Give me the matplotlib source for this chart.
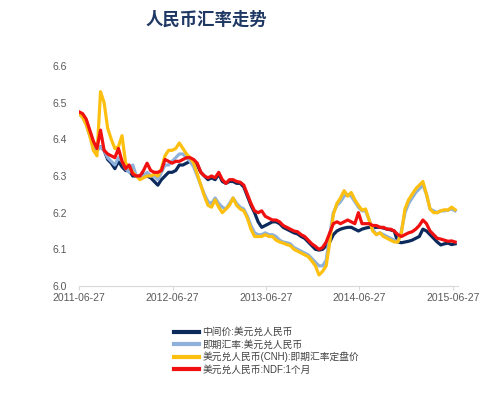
import matplotlib
matplotlib.use("Agg")
import matplotlib.pyplot as plt
import matplotlib.dates as mdates
import pandas as pd

plt.rcParams['font.family'] = ['Liberation Sans', 'Noto Sans CJK SC', 'DejaVu Sans']

title = "人民币汇率走势"
series_names = ["中间价:美元兑人民币", "即期汇率:美元兑人民币",
                "美元兑人民币(CNH):即期汇率定盘价", "美元兑人民币:NDF:1个月"]
dates = pd.date_range("2011-06-27", periods=106, freq="14D")

mid_price = [6.472, 6.465, 6.45, 6.42, 6.39, 6.37, 6.38, 6.37, 6.345, 6.335,
             6.32, 6.34, 6.325, 6.315, 6.315, 6.30, 6.30, 6.30, 6.305, 6.30,
             6.295, 6.285, 6.275, 6.29, 6.30, 6.31, 6.31, 6.315, 6.33, 6.33,
             6.335, 6.34, 6.34, 6.33, 6.31, 6.30, 6.29, 6.295, 6.29, 6.305,
             6.285, 6.28, 6.285, 6.285, 6.28, 6.28, 6.27, 6.245, 6.22, 6.20,
             6.175, 6.16, 6.165, 6.17, 6.175, 6.175, 6.17, 6.16, 6.155, 6.15,
             6.145, 6.142, 6.135, 6.13, 6.12, 6.11, 6.10, 6.098, 6.10, 6.11,
             6.12, 6.14, 6.15, 6.155, 6.158, 6.16, 6.16, 6.155, 6.15, 6.155,
             6.158, 6.16, 6.16, 6.16, 6.16, 6.158, 6.155, 6.153, 6.15, 6.12,
             6.118, 6.12, 6.122, 6.125, 6.13, 6.135, 6.155, 6.15, 6.14, 6.13,
             6.12, 6.112, 6.115, 6.117, 6.113, 6.115]

spot = [6.47, 6.46, 6.44, 6.41, 6.385, 6.37, 6.38, 6.37, 6.35, 6.34,
        6.33, 6.35, 6.34, 6.32, 6.31, 6.33, 6.30, 6.295, 6.30, 6.31,
        6.30, 6.30, 6.29, 6.31, 6.33, 6.33, 6.34, 6.35, 6.36, 6.36,
        6.35, 6.34, 6.325, 6.30, 6.275, 6.25, 6.23, 6.225, 6.24, 6.225,
        6.215, 6.21, 6.225, 6.24, 6.225, 6.215, 6.21, 6.19, 6.165, 6.145,
        6.14, 6.14, 6.145, 6.14, 6.14, 6.135, 6.125, 6.12, 6.118, 6.115,
        6.105, 6.10, 6.095, 6.09, 6.085, 6.075, 6.065, 6.055, 6.055, 6.07,
        6.14, 6.20, 6.22, 6.23, 6.245, 6.25, 6.245, 6.23, 6.215, 6.205,
        6.205, 6.18, 6.155, 6.14, 6.145, 6.14, 6.135, 6.13, 6.125, 6.12,
        6.15, 6.20, 6.225, 6.24, 6.255, 6.265, 6.275, 6.25, 6.21, 6.205,
        6.20, 6.205, 6.205, 6.207, 6.21, 6.205]

cnh_fix = [6.47, 6.46, 6.44, 6.41, 6.37, 6.355, 6.53, 6.50, 6.43, 6.40,
           6.375, 6.38, 6.41, 6.335, 6.325, 6.31, 6.30, 6.29, 6.295, 6.30,
           6.30, 6.305, 6.30, 6.32, 6.355, 6.37, 6.37, 6.375, 6.39, 6.375,
           6.36, 6.35, 6.335, 6.305, 6.275, 6.245, 6.22, 6.215, 6.235, 6.215,
           6.20, 6.21, 6.22, 6.24, 6.22, 6.21, 6.205, 6.185, 6.155, 6.135,
           6.135, 6.135, 6.14, 6.135, 6.135, 6.125, 6.12, 6.117, 6.113, 6.11,
           6.10, 6.095, 6.09, 6.085, 6.08, 6.068, 6.055, 6.03, 6.04, 6.055,
           6.12, 6.195, 6.225, 6.24, 6.26, 6.245, 6.255, 6.235, 6.22, 6.207,
           6.21, 6.18, 6.15, 6.14, 6.145, 6.135, 6.13, 6.125, 6.12, 6.12,
           6.145, 6.21, 6.235, 6.25, 6.265, 6.275, 6.285, 6.25, 6.21, 6.20,
           6.20, 6.205, 6.208, 6.207, 6.215, 6.208]

ndf_1m = [6.475, 6.47, 6.455, 6.425, 6.395, 6.375, 6.425, 6.37, 6.36, 6.355,
          6.35, 6.375, 6.34, 6.32, 6.33, 6.305, 6.30, 6.30, 6.315, 6.335,
          6.315, 6.31, 6.31, 6.315, 6.345, 6.34, 6.335, 6.34, 6.34, 6.345,
          6.35, 6.35, 6.345, 6.335, 6.31, 6.30, 6.295, 6.30, 6.295, 6.31,
          6.29, 6.28, 6.29, 6.29, 6.285, 6.283, 6.275, 6.25, 6.225, 6.205,
          6.20, 6.205, 6.19, 6.185, 6.18, 6.18, 6.175, 6.165, 6.16, 6.155,
          6.15, 6.148, 6.14, 6.135, 6.125, 6.115, 6.108, 6.10, 6.105, 6.12,
          6.145, 6.17, 6.175, 6.17, 6.175, 6.18, 6.175, 6.17, 6.20, 6.17,
          6.17, 6.17, 6.165, 6.165, 6.16, 6.16, 6.155, 6.155, 6.15, 6.14,
          6.135, 6.14, 6.145, 6.148, 6.155, 6.165, 6.18, 6.17, 6.15, 6.14,
          6.13, 6.128, 6.125, 6.122, 6.123, 6.12]

tick_dates = ["2011-06-27", "2012-06-27", "2013-06-27", "2014-06-27", "2015-06-27"]
y_ticks = [6.0, 6.1, 6.2, 6.3, 6.4, 6.5, 6.6]

colors = ["#0c2a5c", "#8eb1dc", "#fdbf10", "#f01010"]

fig = plt.figure(figsize=(4.94, 3.98), dpi=100)
ax = fig.add_axes([0.16, 0.2814, 0.767, 0.5528])

lines = []
for vals, c, name in zip([mid_price, spot, cnh_fix, ndf_1m], colors, series_names):
    ln, = ax.plot(dates, vals, color=c, lw=2.3, label=name, solid_joinstyle="round")
    lines.append(ln)

start = pd.Timestamp("2011-06-27")
ax.set_xlim(start, start + pd.Timedelta(days=1481))
ax.set_ylim(6.0, 6.6)
ax.set_yticks(y_ticks)
ax.set_yticklabels([f"{v:.1f}" for v in y_ticks])
ax.set_xticks(pd.to_datetime(tick_dates))
ax.set_xticklabels(tick_dates)

for s in ["top", "right", "left"]:
    ax.spines[s].set_visible(False)
ax.spines["bottom"].set_color("#d9d9d9")
ax.spines["bottom"].set_linewidth(0.8)
ax.tick_params(axis="y", length=0, labelsize=7.5, labelcolor="#595959", pad=9)
ax.tick_params(axis="x", length=3, color="#d9d9d9", labelsize=7.5, labelcolor="#595959", pad=2)

fig.text(206 / 494, 1 - 20 / 398, title, ha="center", va="center",
         fontsize=12.5, fontweight="bold", color="#1f3864",
         family=["Noto Sans CJK SC", "DejaVu Sans"])

leg = fig.legend(handles=lines, loc="upper left", bbox_to_anchor=(174 / 494, 1 - 327 / 398),
                 frameon=False, fontsize=7, handlelength=2.6, handletextpad=0.3,
                 labelspacing=0.25, borderpad=0, borderaxespad=0)
for t in leg.get_texts():
    t.set_color("#404040")
for h in leg.legend_handles:
    h.set_linewidth(3.0)

fig.savefig("out.png", dpi=100)
